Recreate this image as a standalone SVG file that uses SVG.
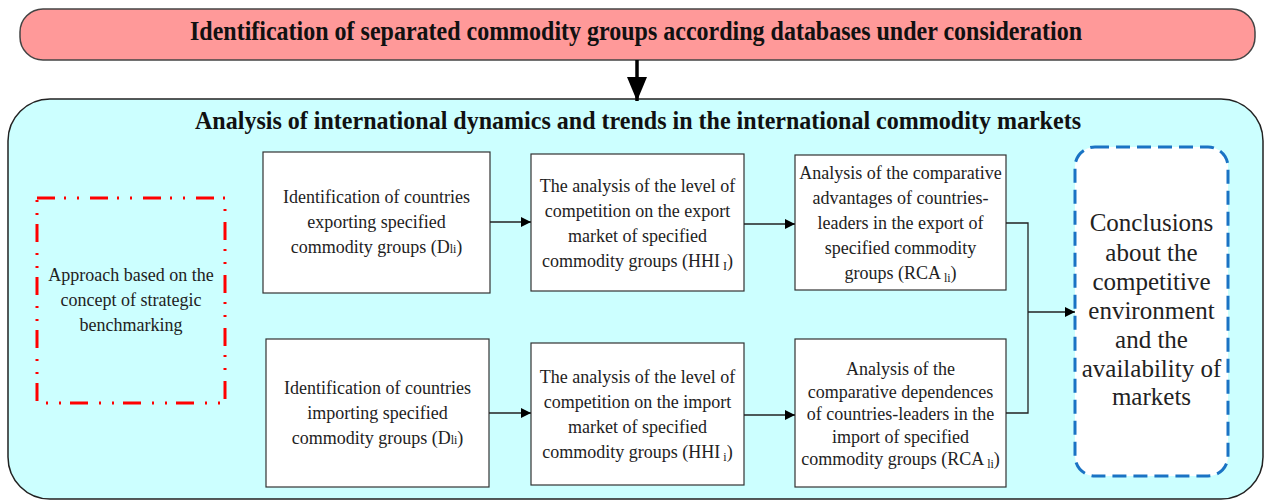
<svg xmlns="http://www.w3.org/2000/svg" width="1270" height="500" viewBox="0 0 1270 500">
  <defs>
    <marker id="arr" viewBox="0 0 10 10" refX="10" refY="5" markerWidth="10" markerHeight="10" markerUnits="userSpaceOnUse" orient="auto">
      <path d="M0,0 L10,5 L0,10 Z" fill="#000"/>
    </marker>
    <marker id="arrBig" viewBox="0 0 20 24" refX="10" refY="24" markerWidth="20" markerHeight="24" markerUnits="userSpaceOnUse" orient="0">
      <path d="M0,0 L20,0 L10,24 Z" fill="#000"/>
    </marker>
  </defs>
  <style>
    .title { font-family: "Liberation Serif", "Times New Roman", serif; font-weight: bold; fill: #111; }
    .body { font-family: "Liberation Serif", "Times New Roman", serif; font-size: 18px; fill: #222; text-anchor: middle; }
    .big { font-family: "Liberation Serif", "Times New Roman", serif; font-size: 25px; fill: #222; text-anchor: middle; }
    .sub { font-size: 12px; }
    .box { fill: #fff; stroke: #333; stroke-width: 1.2; }
    .conn { fill: none; stroke: #222; stroke-width: 1.3; }
  </style>

  <!-- top stage -->
  <g id="stage-identification">
    <rect x="20" y="9" width="1235" height="51" rx="23" ry="23" fill="#ff9999" stroke="#444" stroke-width="1.5"/>
    <text class="title" x="636" y="40" font-size="27" text-anchor="middle" textLength="892" lengthAdjust="spacingAndGlyphs">Identification of separated commodity groups according databases under consideration</text>
  </g>

  <!-- analysis container -->
  <g id="stage-analysis">
    <rect x="8" y="99" width="1255" height="400" rx="42" ry="42" fill="#ccffff" stroke="#222" stroke-width="1.5"/>
    <text class="title" x="638" y="129" font-size="25" text-anchor="middle" textLength="886" lengthAdjust="spacingAndGlyphs">Analysis of international dynamics and trends in the international commodity markets</text>
  </g>

  <g id="approach">
    <rect x="37" y="198" width="188" height="205" fill="none" stroke="#ff0000" stroke-width="3" stroke-dasharray="18 9 2 11 2 11"/>
    <text class="body" x="131"><tspan x="131" y="281">Approach based on the</tspan><tspan x="131" y="306">concept of strategic</tspan><tspan x="131" y="331">benchmarking</tspan></text>
  </g>

  <g id="export-countries">
    <rect class="box" x="263" y="152" width="227" height="141"/>
    <text class="body"><tspan x="376.5" y="203">Identification of countries</tspan><tspan x="376.5" y="228">exporting specified</tspan><tspan x="376.5" y="253">commodity groups (D<tspan class="sub">li</tspan>)</tspan></text>
  </g>

  <g id="export-competition">
    <rect class="box" x="531" y="154" width="213" height="137"/>
    <text class="body"><tspan x="637.5" y="192">The analysis of the level of</tspan><tspan x="637.5" y="217">competition on the export</tspan><tspan x="637.5" y="242">market of specified</tspan><tspan x="637.5" y="267">commodity groups  (HHI<tspan class="sub" dy="3"> I</tspan><tspan dy="-3">)</tspan></tspan></text>
  </g>

  <g id="export-advantages">
    <rect class="box" x="795" y="155" width="211" height="135"/>
    <text class="body"><tspan x="900.5" y="179">Analysis of the comparative</tspan><tspan x="900.5" y="204">advantages of countries-</tspan><tspan x="900.5" y="229">leaders in the export of</tspan><tspan x="900.5" y="254">specified commodity</tspan><tspan x="900.5" y="279">groups   (RCA<tspan class="sub" dy="3"> li</tspan><tspan dy="-3">)</tspan></tspan></text>
  </g>

  <g id="import-countries">
    <rect class="box" x="266" y="339" width="223" height="148"/>
    <text class="body"><tspan x="377.5" y="394">Identification of countries</tspan><tspan x="377.5" y="419">importing specified</tspan><tspan x="377.5" y="444">commodity groups (D<tspan class="sub">li</tspan>)</tspan></text>
  </g>

  <g id="import-competition">
    <rect class="box" x="531" y="343" width="213" height="142"/>
    <text class="body"><tspan x="637.5" y="383">The analysis of the level of</tspan><tspan x="637.5" y="408">competition on the import</tspan><tspan x="637.5" y="433">market of specified</tspan><tspan x="637.5" y="458">commodity groups (HHI<tspan class="sub" dy="3"> i</tspan><tspan dy="-3">)</tspan></tspan></text>
  </g>

  <g id="import-dependences">
    <rect class="box" x="795" y="339" width="211" height="148"/>
    <text class="body"><tspan x="900.5" y="375">Analysis of the</tspan><tspan x="900.5" y="398">comparative dependences</tspan><tspan x="900.5" y="420">of countries-leaders in the</tspan><tspan x="900.5" y="443">import of specified</tspan><tspan x="900.5" y="465">commodity groups (RCA<tspan class="sub" dy="3"> li</tspan><tspan dy="-3">)</tspan></tspan></text>
  </g>

  <g id="conclusions">
    <rect x="1075" y="147" width="153" height="329" rx="20" ry="20" fill="#fff" stroke="#1a73c4" stroke-width="3" stroke-dasharray="14 7"/>
    <text class="big"><tspan x="1151.5" y="231">Conclusions</tspan><tspan x="1151.5" y="261">about the</tspan><tspan x="1151.5" y="290">competitive</tspan><tspan x="1151.5" y="319">environment</tspan><tspan x="1151.5" y="348">and the</tspan><tspan x="1151.5" y="377">availability of</tspan><tspan x="1151.5" y="405">markets</tspan></text>
  </g>

  <!-- connectors -->
  <g id="connectors">
    <line x1="637" y1="60" x2="637" y2="101" stroke="#000" stroke-width="3.5" marker-end="url(#arrBig)"/>
    <line class="conn" x1="490" y1="222" x2="531" y2="222" marker-end="url(#arr)"/>
    <line class="conn" x1="744" y1="224" x2="795" y2="224" marker-end="url(#arr)"/>
    <line class="conn" x1="489" y1="413" x2="531" y2="413" marker-end="url(#arr)"/>
    <line class="conn" x1="744" y1="415" x2="795" y2="415" marker-end="url(#arr)"/>
    <polyline class="conn" points="1006,223 1028,223 1028,413 1006,413"/>
    <line class="conn" x1="1028" y1="312" x2="1075" y2="312" marker-end="url(#arr)"/>
  </g>
</svg>
